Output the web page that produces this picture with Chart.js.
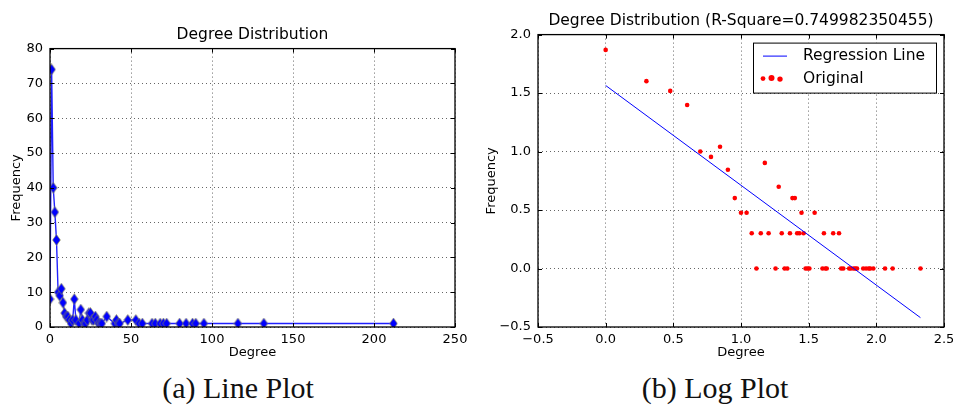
<!DOCTYPE html>
<html>
<head>
<meta charset="utf-8">
<script src="https://cdn.jsdelivr.net/npm/chart.js@4"></script>
<style>
  html, body { margin: 0; padding: 0; background: #fff; overflow: hidden; }
  body { width: 953px; height: 407px; position: relative; }
  #left { position: absolute; left: 0; top: 0; }
  #right { position: absolute; left: 475px; top: 0; }
  .caption {
    position: absolute; top: 371px; line-height: 34px;
    font-family: "Liberation Serif", serif; font-size: 30px; color: #111;
    transform: translateX(-50%); white-space: nowrap;
  }
</style>
</head>
<body>
<canvas id="left" width="480" height="362"></canvas>
<canvas id="right" width="490" height="362"></canvas>
<div class="caption" style="left:238px">(a) Line Plot</div>
<div class="caption" style="left:715px">(b) Log Plot</div>
<script>
// degree -> number of nodes with that degree
const degrees = [0,1,2,3,4,5,6,7,8,9,10,11,12,13,14,15,16,18,19,20,21,22,23,24,25,26,27,28,29,30,31,32,35,40,41,42,43,48,53,55,57,63,65,68,70,72,80,84,88,90,95,116,132,212];
const frequency = [8,74,40,33,25,10,9,11,7,4,3,3,2,1,2,8,2,1,5,2,1,1,2,4,4,2,2,3,2,1,1,1,3,1,2,1,1,2,2,1,1,1,1,1,1,1,1,1,1,1,1,1,1,1];

// fitted line on the log plot
const regressionX = [0, 2.326];
const regressionY = [1.565, -0.42];
const rSquare = "0.749982350455";

const leftTitle = "Degree Distribution";
const rightTitle = "Degree Distribution (R-Square=" + rSquare + ")";

Chart.defaults.font.family = "'DejaVu Sans', sans-serif";
Chart.defaults.color = "#000";
Chart.defaults.animation = false;

// thin blue diamond like matplotlib's 'd' marker
function diamond() {
  const c = document.createElement("canvas");
  c.width = 9; c.height = 12;
  const g = c.getContext("2d");
  g.beginPath();
  g.moveTo(4.5, 0.5); g.lineTo(8.4, 6); g.lineTo(4.5, 11.5); g.lineTo(0.6, 6); g.closePath();
  g.fillStyle = "#0000ff"; g.fill();
  g.lineWidth = 0.6; g.strokeStyle = "#9c9c3a"; g.stroke();
  return c;
}

const minus = (s) => s.replace("-", "\u2212");

// box round the axes plus inward tick marks on all four sides
const frameBox = {
  id: "frameBox",
  afterDatasetsDraw(chart) {
    const { ctx, chartArea: a, scales } = chart;
    ctx.save();
    ctx.strokeStyle = "#000";
    ctx.lineWidth = 1;
    scales.x.ticks.forEach((t) => {
      const x = Math.round(scales.x.getPixelForValue(t.value)) + 0.5;
      ctx.beginPath();
      ctx.moveTo(x, a.bottom); ctx.lineTo(x, a.bottom - 4);
      ctx.moveTo(x, a.top); ctx.lineTo(x, a.top + 4);
      ctx.stroke();
    });
    scales.y.ticks.forEach((t) => {
      const y = Math.round(scales.y.getPixelForValue(t.value)) + 0.5;
      ctx.beginPath();
      ctx.moveTo(a.left, y); ctx.lineTo(a.left + 4, y);
      ctx.moveTo(a.right, y); ctx.lineTo(a.right - 4, y);
      ctx.stroke();
    });
    ctx.lineWidth = 1.3;
    ctx.strokeRect(a.left, a.top, a.right - a.left, a.bottom - a.top);
    ctx.restore();
  },
};

// matplotlib-style legend box in the upper right of the axes
const legendBox = {
  id: "legendBox",
  afterDraw(chart) {
    const { ctx, chartArea: a } = chart;
    const w = 183, h = 50;
    const left = a.right - 8 - w, top = a.top + 8;
    ctx.save();
    ctx.fillStyle = "#fff";
    ctx.fillRect(left, top, w, h);
    ctx.strokeStyle = "#000";
    ctx.lineWidth = 1;
    ctx.strokeRect(left + 0.5, top + 0.5, w, h);
    ctx.strokeStyle = "#0000ff";
    ctx.beginPath();
    ctx.moveTo(left + 10, top + 13.5); ctx.lineTo(left + 34, top + 13.5);
    ctx.stroke();
    ctx.fillStyle = "#ff0000";
    [[10, 36, 2.4], [18.5, 35.5, 3], [27, 36.5, 2.7]].forEach(([dx, dy, r]) => {
      ctx.beginPath(); ctx.arc(left + dx, top + dy, r, 0, Math.PI * 2); ctx.fill();
    });
    ctx.fillStyle = "#000";
    ctx.font = "15.5px 'DejaVu Sans'";
    ctx.textBaseline = "middle";
    ctx.fillText("Regression Line", left + 50, top + 13);
    ctx.fillText("Original", left + 50, top + 36);
    ctx.restore();
  },
};

function axis(min, max, step, pad, fmt, extra) {
  return Object.assign({
    type: "linear",
    min: min, max: max,
    grid: { color: "rgba(0,0,0,0.6)", lineWidth: 1, drawTicks: false },
    border: { display: false, dash: [1, 3] },
    ticks: { stepSize: step, font: { size: 13 }, padding: pad, callback: fmt },
  }, extra);
}

// (a) line plot
new Chart(document.getElementById("left"), {
  type: "line",
  data: {
    datasets: [{
      data: degrees.map((d, i) => ({ x: d, y: frequency[i] })),
      borderColor: "#2020ff",
      borderWidth: 1.4,
      pointStyle: diamond(),
      pointRadius: 5,
      clip: 0,
    }],
  },
  options: {
    responsive: false,
    layout: { padding: { right: 25 } },
    plugins: {
      legend: { display: false },
      tooltip: { enabled: false },
      title: {
        display: true, text: leftTitle, fullSize: false,
        font: { size: 15.5, weight: "normal" }, padding: { top: 26, bottom: 4 },
      },
    },
    scales: {
      x: axis(0, 250, 50, 5, (v) => String(v), {
        title: { display: true, text: "Degree", font: { size: 13 }, padding: { top: 0, bottom: 2 } },
        afterFit: (s) => { s.height = 35; },
      }),
      y: axis(0, 80, 10, 7, (v) => String(v), {
        title: { display: true, text: "Frequency", font: { size: 13 }, padding: { top: 9, bottom: 0 } },
        afterFit: (s) => { s.width = 50; },
      }),
    },
  },
  plugins: [frameBox],
});

// (b) log-log plot
const logPoints = [];
degrees.forEach((d, i) => {
  if (d > 0) logPoints.push({ x: Math.log10(d), y: Math.log10(frequency[i]) });
});

new Chart(document.getElementById("right"), {
  type: "scatter",
  data: {
    datasets: [
      {
        type: "line",
        data: regressionX.map((x, i) => ({ x: x, y: regressionY[i] })),
        borderColor: "#0000ff",
        borderWidth: 1,
        pointRadius: 0,
      },
      {
        data: logPoints,
        backgroundColor: "#ff0000",
        borderWidth: 0,
        pointRadius: 2.3,
        clip: 0,
      },
    ],
  },
  options: {
    responsive: false,
    layout: { padding: { right: 21 } },
    plugins: {
      legend: { display: false },
      tooltip: { enabled: false },
      title: {
        display: true, text: rightTitle, fullSize: false,
        font: { size: 15.5, weight: "normal" }, padding: { top: 12, bottom: 4 },
      },
    },
    scales: {
      x: axis(-0.5, 2.5, 0.5, 5, (v) => minus(v.toFixed(1)), {
        title: { display: true, text: "Degree", font: { size: 13 }, padding: { top: 0, bottom: 2 } },
        afterFit: (s) => { s.height = 35; },
      }),
      y: axis(-0.5, 2.0, 0.5, 7, (v) => minus(v.toFixed(1)), {
        title: { display: true, text: "Frequency", font: { size: 13 }, padding: { top: 9, bottom: 0 } },
        afterFit: (s) => { s.width = 63; },
      }),
    },
  },
  plugins: [frameBox, legendBox],
});
</script>
</body>
</html>
